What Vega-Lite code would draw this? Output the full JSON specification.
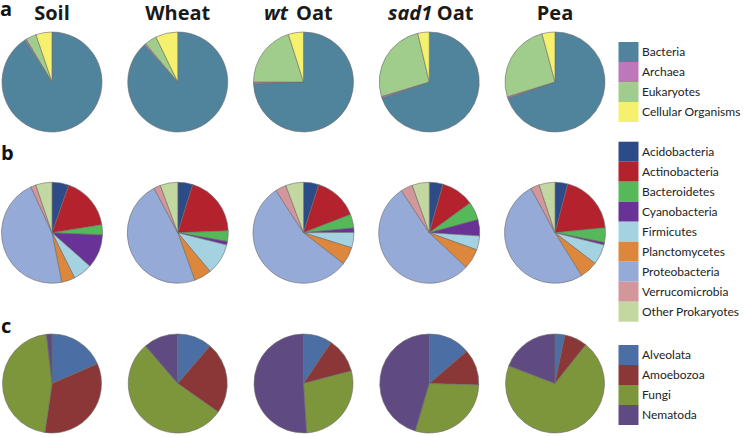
{
  "$schema": "https://vega.github.io/schema/vega-lite/v6.json",
  "width": 743,
  "height": 437,
  "padding": 0,
  "autosize": {"type": "none"},
  "background": "white",
  "config": {"view": {"stroke": null}},
  "encoding": {
    "x": {"field": "sample", "type": "nominal", "axis": null,
      "scale": {"type": "point", "domain": ["Soil", "Wheat", "wt Oat", "sad1 Oat", "Pea"], "range": [52, 555], "padding": 0}},
    "y": {"field": "row", "type": "nominal", "axis": null,
      "scale": {"type": "point", "domain": ["a", "b", "c"], "range": [82, 383.5], "padding": 0}}
  },
  "layer": [
    {
      "data": {"values": [
        {"sample": "Soil", "row": "a", "group": "Bacteria", "k": 1, "v": 90.9},
        {"sample": "Soil", "row": "a", "group": "Archaea", "k": 2, "v": 0.5},
        {"sample": "Soil", "row": "a", "group": "Eukaryotes", "k": 3, "v": 3.4},
        {"sample": "Soil", "row": "a", "group": "Cellular Organisms", "k": 4, "v": 5.2},
        {"sample": "Wheat", "row": "a", "group": "Bacteria", "k": 1, "v": 88.4},
        {"sample": "Wheat", "row": "a", "group": "Archaea", "k": 2, "v": 0.5},
        {"sample": "Wheat", "row": "a", "group": "Eukaryotes", "k": 3, "v": 3.9},
        {"sample": "Wheat", "row": "a", "group": "Cellular Organisms", "k": 4, "v": 7.2},
        {"sample": "wt Oat", "row": "a", "group": "Bacteria", "k": 1, "v": 74.4},
        {"sample": "wt Oat", "row": "a", "group": "Archaea", "k": 2, "v": 0.6},
        {"sample": "wt Oat", "row": "a", "group": "Eukaryotes", "k": 3, "v": 20.1},
        {"sample": "wt Oat", "row": "a", "group": "Cellular Organisms", "k": 4, "v": 4.9},
        {"sample": "sad1 Oat", "row": "a", "group": "Bacteria", "k": 1, "v": 69.8},
        {"sample": "sad1 Oat", "row": "a", "group": "Archaea", "k": 2, "v": 0.5},
        {"sample": "sad1 Oat", "row": "a", "group": "Eukaryotes", "k": 3, "v": 26.0},
        {"sample": "sad1 Oat", "row": "a", "group": "Cellular Organisms", "k": 4, "v": 3.7},
        {"sample": "Pea", "row": "a", "group": "Bacteria", "k": 1, "v": 69.7},
        {"sample": "Pea", "row": "a", "group": "Archaea", "k": 2, "v": 0.5},
        {"sample": "Pea", "row": "a", "group": "Eukaryotes", "k": 3, "v": 25.6},
        {"sample": "Pea", "row": "a", "group": "Cellular Organisms", "k": 4, "v": 4.2}
      ]},
      "transform": [{"stack": "v", "groupby": ["sample"], "sort": [{"field": "k"}], "offset": "normalize", "as": ["t0", "t1"]}],
      "mark": {"type": "arc", "outerRadius": 50, "stroke": "#6b6b6b", "strokeWidth": 0.6},
      "encoding": {
        "theta": {"field": "t0", "type": "quantitative", "stack": null, "scale": {"domain": [0, 1], "range": [0, 6.283185307]}},
        "theta2": {"field": "t1"},
        "color": {"field": "group", "type": "nominal",
          "scale": {"domain": ["Bacteria", "Archaea", "Eukaryotes", "Cellular Organisms"], "range": ["#50849c", "#be78b9", "#a0cd8c", "#f5f06e"]},
          "legend": {"title": null, "orient": "none", "legendX": 618.5, "legendY": 42, "symbolType": "square", "symbolSize": 400, "symbolStrokeWidth": 0, "symbolOpacity": 1, "rowPadding": 0, "padding": 0, "labelFont": "Lato", "labelFontSize": 12, "labelColor": "#222222", "labelLimit": 200, "labelOffset": 3.5}
        }
      }
    },
    {
      "data": {"values": [
        {"sample": "Soil", "row": "b", "group": "Acidobacteria", "k": 1, "v": 5.4},
        {"sample": "Soil", "row": "b", "group": "Actinobacteria", "k": 2, "v": 17.1},
        {"sample": "Soil", "row": "b", "group": "Bacteroidetes", "k": 3, "v": 3.2},
        {"sample": "Soil", "row": "b", "group": "Cyanobacteria", "k": 4, "v": 10.8},
        {"sample": "Soil", "row": "b", "group": "Firmicutes", "k": 5, "v": 6.1},
        {"sample": "Soil", "row": "b", "group": "Planctomycetes", "k": 6, "v": 4.3},
        {"sample": "Soil", "row": "b", "group": "Proteobacteria", "k": 7, "v": 46.2},
        {"sample": "Soil", "row": "b", "group": "Verrucomicrobia", "k": 8, "v": 1.7},
        {"sample": "Soil", "row": "b", "group": "Other Prokaryotes", "k": 9, "v": 5.2},
        {"sample": "Wheat", "row": "b", "group": "Acidobacteria", "k": 1, "v": 4.8},
        {"sample": "Wheat", "row": "b", "group": "Actinobacteria", "k": 2, "v": 19.6},
        {"sample": "Wheat", "row": "b", "group": "Bacteroidetes", "k": 3, "v": 3.4},
        {"sample": "Wheat", "row": "b", "group": "Cyanobacteria", "k": 4, "v": 1.1},
        {"sample": "Wheat", "row": "b", "group": "Firmicutes", "k": 5, "v": 10.0},
        {"sample": "Wheat", "row": "b", "group": "Planctomycetes", "k": 6, "v": 5.6},
        {"sample": "Wheat", "row": "b", "group": "Proteobacteria", "k": 7, "v": 47.7},
        {"sample": "Wheat", "row": "b", "group": "Verrucomicrobia", "k": 8, "v": 2.2},
        {"sample": "Wheat", "row": "b", "group": "Other Prokaryotes", "k": 9, "v": 5.6},
        {"sample": "wt Oat", "row": "b", "group": "Acidobacteria", "k": 1, "v": 4.9},
        {"sample": "wt Oat", "row": "b", "group": "Actinobacteria", "k": 2, "v": 14.2},
        {"sample": "wt Oat", "row": "b", "group": "Bacteroidetes", "k": 3, "v": 4.4},
        {"sample": "wt Oat", "row": "b", "group": "Cyanobacteria", "k": 4, "v": 1.4},
        {"sample": "wt Oat", "row": "b", "group": "Firmicutes", "k": 5, "v": 4.9},
        {"sample": "wt Oat", "row": "b", "group": "Planctomycetes", "k": 6, "v": 5.7},
        {"sample": "wt Oat", "row": "b", "group": "Proteobacteria", "k": 7, "v": 55.3},
        {"sample": "wt Oat", "row": "b", "group": "Verrucomicrobia", "k": 8, "v": 3.5},
        {"sample": "wt Oat", "row": "b", "group": "Other Prokaryotes", "k": 9, "v": 5.7},
        {"sample": "sad1 Oat", "row": "b", "group": "Acidobacteria", "k": 1, "v": 4.4},
        {"sample": "sad1 Oat", "row": "b", "group": "Actinobacteria", "k": 2, "v": 10.6},
        {"sample": "sad1 Oat", "row": "b", "group": "Bacteroidetes", "k": 3, "v": 5.8},
        {"sample": "sad1 Oat", "row": "b", "group": "Cyanobacteria", "k": 4, "v": 5.2},
        {"sample": "sad1 Oat", "row": "b", "group": "Firmicutes", "k": 5, "v": 4.5},
        {"sample": "sad1 Oat", "row": "b", "group": "Planctomycetes", "k": 6, "v": 6.5},
        {"sample": "sad1 Oat", "row": "b", "group": "Proteobacteria", "k": 7, "v": 53.7},
        {"sample": "sad1 Oat", "row": "b", "group": "Verrucomicrobia", "k": 8, "v": 3.8},
        {"sample": "sad1 Oat", "row": "b", "group": "Other Prokaryotes", "k": 9, "v": 5.5},
        {"sample": "Pea", "row": "b", "group": "Acidobacteria", "k": 1, "v": 4.1},
        {"sample": "Pea", "row": "b", "group": "Actinobacteria", "k": 2, "v": 19.3},
        {"sample": "Pea", "row": "b", "group": "Bacteroidetes", "k": 3, "v": 4.7},
        {"sample": "Pea", "row": "b", "group": "Cyanobacteria", "k": 4, "v": 0.8},
        {"sample": "Pea", "row": "b", "group": "Firmicutes", "k": 5, "v": 6.5},
        {"sample": "Pea", "row": "b", "group": "Planctomycetes", "k": 6, "v": 5.8},
        {"sample": "Pea", "row": "b", "group": "Proteobacteria", "k": 7, "v": 50.9},
        {"sample": "Pea", "row": "b", "group": "Verrucomicrobia", "k": 8, "v": 2.8},
        {"sample": "Pea", "row": "b", "group": "Other Prokaryotes", "k": 9, "v": 5.1}
      ]},
      "transform": [{"stack": "v", "groupby": ["sample"], "sort": [{"field": "k"}], "offset": "normalize", "as": ["t0", "t1"]}],
      "mark": {"type": "arc", "outerRadius": 50.5, "stroke": "#6b6b6b", "strokeWidth": 0.6},
      "encoding": {
        "theta": {"field": "t0", "type": "quantitative", "stack": null, "scale": {"domain": [0, 1], "range": [0, 6.283185307]}},
        "theta2": {"field": "t1"},
        "color": {"field": "group", "type": "nominal",
          "scale": {"domain": ["Acidobacteria", "Actinobacteria", "Bacteroidetes", "Cyanobacteria", "Firmicutes", "Planctomycetes", "Proteobacteria", "Verrucomicrobia", "Other Prokaryotes"],
            "range": ["#2d4b87", "#b4232d", "#55b95a", "#693296", "#a5d2e1", "#dc873c", "#96aad7", "#d2969b", "#c3d7a0"]},
          "legend": {"title": null, "orient": "none", "legendX": 618.5, "legendY": 141.7, "symbolType": "square", "symbolSize": 400, "symbolStrokeWidth": 0, "symbolOpacity": 1, "rowPadding": 0, "padding": 0, "labelFont": "Lato", "labelFontSize": 12, "labelColor": "#222222", "labelLimit": 200, "labelOffset": 3.5}
        }
      }
    },
    {
      "data": {"values": [
        {"sample": "Soil", "row": "c", "group": "Alveolata", "k": 1, "v": 18.5},
        {"sample": "Soil", "row": "c", "group": "Amoebozoa", "k": 2, "v": 33.8},
        {"sample": "Soil", "row": "c", "group": "Fungi", "k": 3, "v": 45.9},
        {"sample": "Soil", "row": "c", "group": "Nematoda", "k": 4, "v": 1.8},
        {"sample": "Wheat", "row": "c", "group": "Alveolata", "k": 1, "v": 11.3},
        {"sample": "Wheat", "row": "c", "group": "Amoebozoa", "k": 2, "v": 23.5},
        {"sample": "Wheat", "row": "c", "group": "Fungi", "k": 3, "v": 53.9},
        {"sample": "Wheat", "row": "c", "group": "Nematoda", "k": 4, "v": 11.3},
        {"sample": "wt Oat", "row": "c", "group": "Alveolata", "k": 1, "v": 9.4},
        {"sample": "wt Oat", "row": "c", "group": "Amoebozoa", "k": 2, "v": 11.5},
        {"sample": "wt Oat", "row": "c", "group": "Fungi", "k": 3, "v": 28.1},
        {"sample": "wt Oat", "row": "c", "group": "Nematoda", "k": 4, "v": 51.0},
        {"sample": "sad1 Oat", "row": "c", "group": "Alveolata", "k": 1, "v": 13.7},
        {"sample": "sad1 Oat", "row": "c", "group": "Amoebozoa", "k": 2, "v": 11.8},
        {"sample": "sad1 Oat", "row": "c", "group": "Fungi", "k": 3, "v": 29.1},
        {"sample": "sad1 Oat", "row": "c", "group": "Nematoda", "k": 4, "v": 45.4},
        {"sample": "Pea", "row": "c", "group": "Alveolata", "k": 1, "v": 3.2},
        {"sample": "Pea", "row": "c", "group": "Amoebozoa", "k": 2, "v": 7.5},
        {"sample": "Pea", "row": "c", "group": "Fungi", "k": 3, "v": 70.1},
        {"sample": "Pea", "row": "c", "group": "Nematoda", "k": 4, "v": 19.2}
      ]},
      "transform": [{"stack": "v", "groupby": ["sample"], "sort": [{"field": "k"}], "offset": "normalize", "as": ["t0", "t1"]}],
      "mark": {"type": "arc", "outerRadius": 49.5, "stroke": "#6b6b6b", "strokeWidth": 0.6},
      "encoding": {
        "theta": {"field": "t0", "type": "quantitative", "stack": null, "scale": {"domain": [0, 1], "range": [0, 6.283185307]}},
        "theta2": {"field": "t1"},
        "color": {"field": "group", "type": "nominal",
          "scale": {"domain": ["Alveolata", "Amoebozoa", "Fungi", "Nematoda"], "range": ["#4b6ea5", "#8c3737", "#7d963c", "#5f4b82"]},
          "legend": {"title": null, "orient": "none", "legendX": 618.5, "legendY": 345, "symbolType": "square", "symbolSize": 400, "symbolStrokeWidth": 0, "symbolOpacity": 1, "rowPadding": 0, "padding": 0, "labelFont": "Lato", "labelFontSize": 12, "labelColor": "#222222", "labelLimit": 200, "labelOffset": 3.5}
        }
      }
    },
    {
      "data": {"values": [
        {"sample": "Soil", "row": "a", "label": "Soil"},
        {"sample": "Wheat", "row": "a", "label": "Wheat"},
        {"sample": "Pea", "row": "a", "label": "Pea"}
      ]},
      "mark": {"type": "text", "font": "Open Sans", "fontWeight": "bold", "fontSize": 20, "align": "center", "baseline": "alphabetic", "dy": -62.5, "color": "#1a1a1a"},
      "encoding": {"text": {"field": "label"}}
    },
    {
      "data": {"values": [{"sample": "wt Oat", "row": "a", "label": "wt"}]},
      "mark": {"type": "text", "font": "Open Sans", "fontWeight": "bold", "fontStyle": "italic", "fontSize": 20, "align": "right", "baseline": "alphabetic", "dy": -62.5, "dx": -15.5, "color": "#1a1a1a"},
      "encoding": {"text": {"field": "label"}}
    },
    {
      "data": {"values": [{"sample": "wt Oat", "row": "a", "label": "Oat"}]},
      "mark": {"type": "text", "font": "Open Sans", "fontWeight": "bold", "fontSize": 20, "align": "left", "baseline": "alphabetic", "dy": -62.5, "dx": -7.5, "color": "#1a1a1a"},
      "encoding": {"text": {"field": "label"}}
    },
    {
      "data": {"values": [{"sample": "sad1 Oat", "row": "a", "label": "sad1"}]},
      "mark": {"type": "text", "font": "Open Sans", "fontWeight": "bold", "fontStyle": "italic", "fontSize": 20, "align": "right", "baseline": "alphabetic", "dy": -62.5, "dx": 3, "color": "#1a1a1a"},
      "encoding": {"text": {"field": "label"}}
    },
    {
      "data": {"values": [{"sample": "sad1 Oat", "row": "a", "label": "Oat"}]},
      "mark": {"type": "text", "font": "Open Sans", "fontWeight": "bold", "fontSize": 20, "align": "left", "baseline": "alphabetic", "dy": -62.5, "dx": 7.5, "color": "#1a1a1a"},
      "encoding": {"text": {"field": "label"}}
    },
    {
      "data": {"values": [{"row": "a", "label": "a"}]},
      "mark": {"type": "text", "font": "Open Sans", "fontWeight": "bold", "fontSize": 20, "align": "left", "baseline": "alphabetic", "dy": -66.5, "dx": -52, "color": "#111111"},
      "encoding": {"x": {"datum": "Soil"}, "text": {"field": "label"}}
    },
    {
      "data": {"values": [{"row": "b", "label": "b"}]},
      "mark": {"type": "text", "font": "Open Sans", "fontWeight": "bold", "fontSize": 20, "align": "left", "baseline": "alphabetic", "dy": -72.7, "dx": -51, "color": "#111111"},
      "encoding": {"x": {"datum": "Soil"}, "text": {"field": "label"}}
    },
    {
      "data": {"values": [{"row": "c", "label": "c"}]},
      "mark": {"type": "text", "font": "Open Sans", "fontWeight": "bold", "fontSize": 20, "align": "left", "baseline": "alphabetic", "dy": -50.5, "dx": -51, "color": "#111111"},
      "encoding": {"x": {"datum": "Soil"}, "text": {"field": "label"}}
    }
  ],
  "resolve": {"scale": {"color": "independent"}, "legend": {"color": "independent"}}
}
